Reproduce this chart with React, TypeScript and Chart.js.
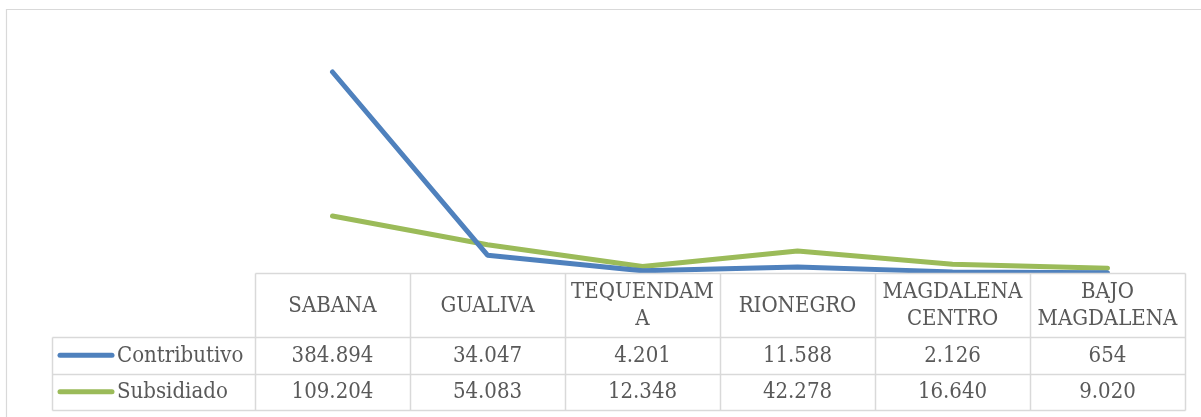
import React, { useEffect, useRef } from "react";
import { Chart, registerables } from "chart.js";

Chart.register(...registerables);

const categories = ["SABANA", "GUALIVA", "TEQUENDAMA", "RIONEGRO", "MAGDALENA CENTRO", "BAJO MAGDALENA"];
const headerLines = [["SABANA"], ["GUALIVA"], ["TEQUENDAM", "A"], ["RIONEGRO"], ["MAGDALENA", "CENTRO"], ["BAJO", "MAGDALENA"]];
const contributivo = [384894, 34047, 4201, 11588, 2126, 654];
const subsidiado = [109204, 54083, 12348, 42278, 16640, 9020];
const seriesNames = ["Contributivo", "Subsidiado"];
const yMax = 450000;

const BLUE = "#4F81BD";
const GREEN = "#9BBB59";
const GRID = "#D9D9D9";
const TEXT = "#595959";
const FONT = "22px 'DejaVu Serif Condensed', 'DejaVu Serif', serif";

const fmt = (v: number) => v.toLocaleString("de-DE");

const setFont = (ctx: CanvasRenderingContext2D) => {
  ctx.font = FONT;
  try {
    (ctx as any).fontStretch = "condensed";
  } catch (e) {}
};

const tablePlugin = {
  id: "dataTable",
  beforeDraw(chart: any) {
    const ctx = chart.ctx as CanvasRenderingContext2D;
    ctx.save();
    ctx.strokeStyle = GRID;
    ctx.lineWidth = 1.2;
    ctx.beginPath();
    ctx.moveTo(6.5, 420);
    ctx.lineTo(6.5, 9.5);
    ctx.lineTo(1205, 9.5);
    ctx.stroke();
    ctx.restore();
  },
  afterDraw(chart: any) {
    const ctx = chart.ctx as CanvasRenderingContext2D;
    const xs = chart.scales.x;
    const n = categories.length;
    const colW = (xs.right - xs.left) / n;
    const top = chart.chartArea.bottom;
    const headerH = 64;
    const rowH = 36.5;
    const legendLeft = 52;
    const r1 = top + headerH;
    const r2 = r1 + rowH;
    const r3 = r2 + rowH;
    const left0 = xs.getPixelForValue(0) - colW / 2;
    const rightN = xs.getPixelForValue(n - 1) + colW / 2;
    const px = (v: number) => Math.round(v) + 0.5;

    ctx.save();
    ctx.strokeStyle = GRID;
    ctx.lineWidth = 1.5;
    ctx.beginPath();
    ctx.moveTo(px(left0), px(top));
    ctx.lineTo(px(rightN), px(top));
    [r1, r2, r3].forEach((y) => {
      ctx.moveTo(px(legendLeft), px(y));
      ctx.lineTo(px(rightN), px(y));
    });
    ctx.moveTo(px(legendLeft), px(r1));
    ctx.lineTo(px(legendLeft), px(r3));
    for (let i = 0; i <= n; i++) {
      const x = i < n ? xs.getPixelForValue(i) - colW / 2 : rightN;
      ctx.moveTo(px(x), px(top));
      ctx.lineTo(px(x), px(r3));
    }
    ctx.stroke();

    ctx.fillStyle = TEXT;
    setFont(ctx);
    ctx.textAlign = "center";
    ctx.textBaseline = "middle";
    const headMid = top + headerH / 2;
    const lh = 27;
    headerLines.forEach((lines, i) => {
      const cx = xs.getPixelForValue(i);
      const start = headMid - ((lines.length - 1) * lh) / 2;
      lines.forEach((t, k) => ctx.fillText(t, cx, start + k * lh + 1));
    });
    const rows = [contributivo, subsidiado];
    const colors = [BLUE, GREEN];
    rows.forEach((vals, r) => {
      const cy = r1 + rowH * r + rowH / 2 + 1;
      vals.forEach((v, i) => {
        ctx.fillText(fmt(v), xs.getPixelForValue(i), cy);
      });
    });
    rows.forEach((_, r) => {
      const cy = r1 + rowH * r + rowH / 2;
      ctx.strokeStyle = colors[r];
      ctx.lineWidth = 5;
      ctx.lineCap = "round";
      ctx.beginPath();
      ctx.moveTo(60, cy);
      ctx.lineTo(112, cy);
      ctx.stroke();
      ctx.textAlign = "left";
      ctx.fillStyle = TEXT;
      ctx.fillText(seriesNames[r], 117, cy + 1);
    });
    ctx.restore();
  },
};

export default function App() {
  const ref = useRef<HTMLCanvasElement | null>(null);
  useEffect(() => {
    if (!ref.current) return;
    const chart = new Chart(ref.current, {
      type: "line",
      data: {
        labels: categories,
        datasets: [
          {
            label: seriesNames[0],
            data: contributivo,
            borderColor: BLUE,
            backgroundColor: BLUE,
            borderWidth: 5,
            borderCapStyle: "round",
            borderJoinStyle: "round",
            pointRadius: 0,
            tension: 0,
          },
          {
            label: seriesNames[1],
            data: subsidiado,
            borderColor: GREEN,
            backgroundColor: GREEN,
            borderWidth: 5,
            borderCapStyle: "round",
            borderJoinStyle: "round",
            pointRadius: 0,
            tension: 0,
          },
        ],
      },
      options: {
        responsive: false,
        animation: false,
        layout: { padding: { left: 255, right: 16, top: 38, bottom: 144 } },
        plugins: { legend: { display: false }, tooltip: { enabled: false } },
        scales: {
          x: { display: false, offset: true },
          y: { display: false, min: 0, max: yMax },
        },
      } as any,
      plugins: [tablePlugin],
    });
    return () => chart.destroy();
  }, []);
  return (
    <div style={{ position: "fixed", left: 0, top: 0, width: 1201, height: 417, background: "#fff" }}>
      <canvas ref={ref} width={1201} height={417} style={{ display: "block" }} />
    </div>
  );
}
